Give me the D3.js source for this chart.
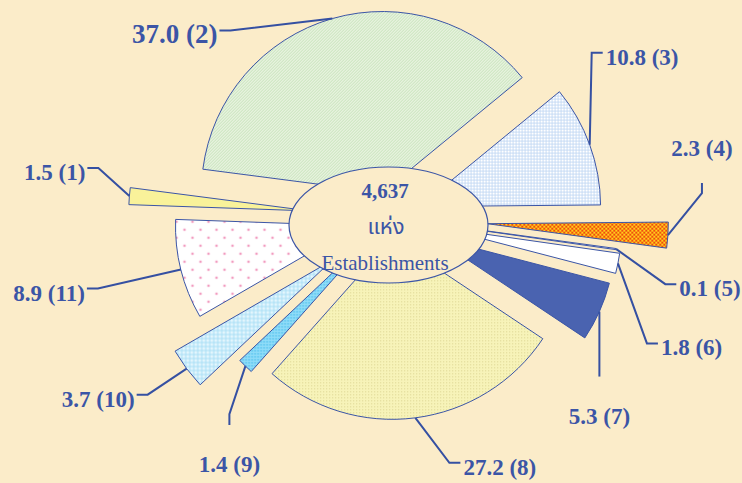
<!DOCTYPE html>
<html>
<head>
<meta charset="utf-8">
<script src="https://cdn.jsdelivr.net/npm/d3@7/dist/d3.min.js"></script>
<style>
    html, body { margin: 0; padding: 0; background: #fbecc9; }
    svg { display: block; }
</style>
</head>
<body>
<div id="chart"></div>
<script>
// สัดส่วนสถานประกอบการ (ร้อยละ) แยกตามประเภท (1)-(11)
var categories = ['(1)', '(2)', '(3)', '(4)', '(5)', '(6)', '(7)', '(8)', '(9)', '(10)', '(11)'];
var values = [1.5, 37.0, 10.8, 2.3, 0.1, 1.8, 5.3, 27.2, 1.4, 3.7, 8.9];
var centerText = ['4,637', 'แห่ง', 'Establishments'];

// explode distance of each slice (px)
var explode = [80, 26, 32, 98, 48, 52, 49, 21, 26, 72, 34];
// fill of each slice
var fills = ['#f9f29a', 'url(#pGreen)', 'url(#pGrid)', 'url(#pCheck)', '#ffffff', '#ffffff',
    '#4a63b0', 'url(#pDotY)', 'url(#pCyan)', 'url(#pCyanL)', 'url(#pPink)'];
// where each label sits, from the point where its leader touches the slice
var labelOffset = [[-42, -28], [-113, 12], [13, -92], [34, -52], [60, 35], [40, 80],
    [0, 65], [45, 45], [-16, 59], [-50, 26], [-94, 19]];
var labelSide = ['L', 'L', 'R', 'T', 'R', 'R', 'B', 'R', 'B', 'L', 'L'];

var w = 742, h = 483;
var cx = 389.5, cy = 217.5, R = 181;
var blue = '#3b55a6';

var svg = d3.select('#chart').append('svg').attr('width', w).attr('height', h);
svg.append('rect').attr('width', w).attr('height', h).attr('fill', '#fbecc9');

var defs = svg.append('defs');
function pattern(id, size, bg) {
    var p = defs.append('pattern').attr('id', id).attr('patternUnits', 'userSpaceOnUse')
        .attr('width', size).attr('height', size);
    p.append('rect').attr('width', size).attr('height', size).attr('fill', bg);
    return p;
}
pattern('pGreen', 3, '#f1f7e9').append('path').attr('d', 'M0,3 L3,0').attr('stroke', '#b2d9a4').attr('stroke-width', 1);
var g = pattern('pGrid', 3, '#ffffff');
g.append('path').attr('d', 'M0,0.5 H3 M0.5,0 V3').attr('stroke', '#bcd4f2').attr('stroke-width', 0.8);
var c = pattern('pCheck', 4, '#ffd21a');
c.append('rect').attr('width', 2).attr('height', 2).attr('fill', '#f04a10');
c.append('rect').attr('x', 2).attr('y', 2).attr('width', 2).attr('height', 2).attr('fill', '#f04a10');
pattern('pDotY', 3, '#f7f3b9').append('rect').attr('width', 1).attr('height', 1).attr('fill', '#d9d28e');
pattern('pCyan', 3, '#8fdcf8').append('rect').attr('width', 1.5).attr('height', 1.5).attr('fill', '#55c3ef');
var cl = pattern('pCyanL', 4, '#e4f6fd');
cl.append('path').attr('d', 'M0,2 H4 M2,0 V4').attr('stroke', '#a8def6').attr('stroke-width', 1);
var pk = pattern('pPink', 16, '#ffffff');
pk.append('circle').attr('cx', 4).attr('cy', 4).attr('r', 1.3).attr('fill', '#f29bbf');
pk.append('circle').attr('cx', 12).attr('cy', 12).attr('r', 1.3).attr('fill', '#f29bbf');

var pie = d3.pie().sort(null)
    .startAngle(272 * Math.PI / 180)
    .endAngle(632 * Math.PI / 180);
var arc = d3.arc().innerRadius(0).outerRadius(R);
var arcs = pie(values);

var root = svg.append('g').attr('transform', 'translate(' + cx + ',' + cy + ')');

function mid(d) { return (d.startAngle + d.endAngle) / 2; }
function polar(a, r) { return [r * Math.sin(a), -r * Math.cos(a)]; }

root.selectAll('path.slice')
    .data(arcs).enter().append('path')
    .attr('class', 'slice')
    .attr('transform', function (d, i) {
        var p = polar(mid(d), explode[i]);
        return 'translate(' + p[0] + ',' + p[1] + ')';
    })
    .attr('d', arc)
    .attr('fill', function (d, i) { return fills[i]; })
    .attr('stroke', blue)
    .attr('stroke-width', 1)
    .attr('stroke-linejoin', 'round');

// leader lines + labels
var fmt = d3.format('.1f');
arcs.forEach(function (d, i) {
    var p = polar(mid(d), explode[i] + R);
    var ax = p[0] + labelOffset[i][0], ay = p[1] + labelOffset[i][1];
    var side = labelSide[i];
    var bx = ax, by = ay;
    if (side == 'L') bx = ax + 11;
    if (side == 'R') bx = ax - 11;
    if (side == 'T') by = ay + 10;
    if (side == 'B') by = ay - 11;

    root.append('path')
        .attr('d', d3.line()([[ax, ay], [bx, by], p]))
        .attr('fill', 'none')
        .attr('stroke', '#3550a2')
        .attr('stroke-width', 2);

    var t = root.append('text')
        .attr('font-family', '"Liberation Serif", "Times New Roman", serif')
        .attr('font-weight', 'bold')
        .attr('font-size', i == 1 ? 27 : 23)
        .attr('fill', blue)
        .text(fmt(values[i]) + ' ' + categories[i]);
    if (side == 'L') t.attr('x', ax - 2).attr('y', ay + 12).attr('text-anchor', 'end');
    if (side == 'R') t.attr('x', ax + 3).attr('y', ay + 12).attr('text-anchor', 'start');
    if (side == 'T') t.attr('x', ax).attr('y', ay - 27).attr('text-anchor', 'middle');
    if (side == 'B') t.attr('x', ax).attr('y', ay + 47).attr('text-anchor', 'middle');
});

// centre ellipse with total
var ctr = svg.append('g');
ctr.append('ellipse')
    .attr('cx', 388.5).attr('cy', 225).attr('rx', 99.5).attr('ry', 58)
    .attr('fill', '#fbecc9').attr('stroke', blue).attr('stroke-width', 1.2);
ctr.append('text').attr('x', 385).attr('y', 198)
    .attr('text-anchor', 'middle')
    .attr('font-family', '"Liberation Serif", serif').attr('font-weight', 'bold').attr('font-size', 21)
    .attr('fill', blue).text(centerText[0]);
ctr.append('text').attr('x', 386).attr('y', 234)
    .attr('text-anchor', 'middle')
    .attr('font-family', '"Liberation Serif", "Noto Sans Thai", "Noto Serif Thai", serif').attr('font-size', 22)
    .attr('fill', blue).text(centerText[1]);
ctr.append('text').attr('x', 385).attr('y', 270)
    .attr('text-anchor', 'middle')
    .attr('font-family', '"Liberation Serif", serif').attr('font-size', 21)
    .attr('fill', blue).text(centerText[2]);
</script>
</body>
</html>
